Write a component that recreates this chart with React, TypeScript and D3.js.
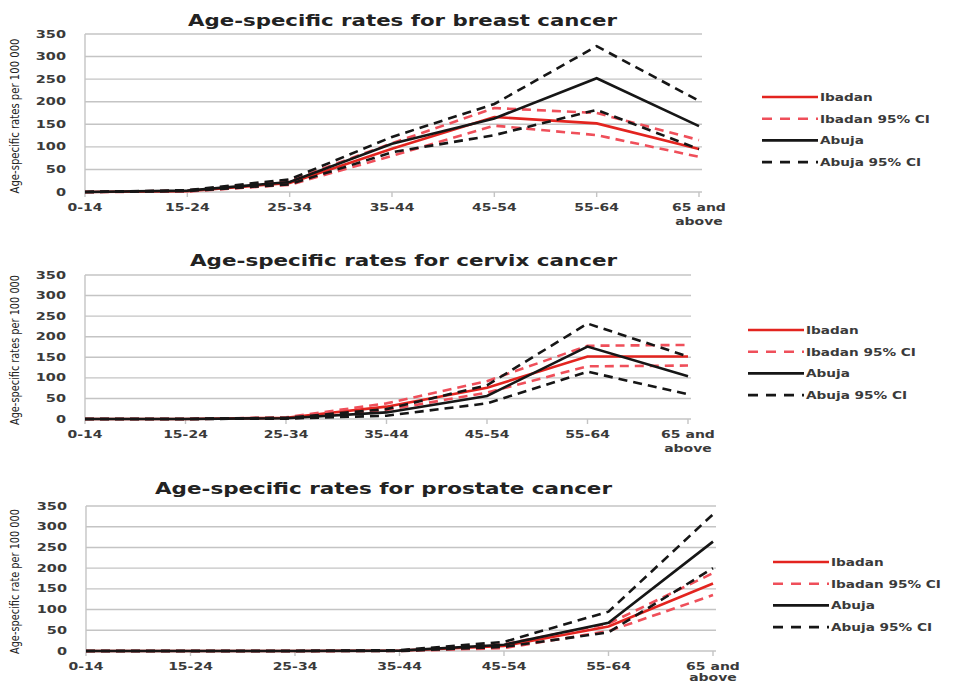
import React from 'react';
import * as d3 from 'd3';

// age groups on the x axis
const ageGroups = ['0-14', '15-24', '25-34', '35-44', '45-54', '55-64', '65 and above'];
const yTicks = [0, 50, 100, 150, 200, 250, 300, 350];
const seriesNames = ['Ibadan', 'Ibadan 95% CI', 'Abuja', 'Abuja 95% CI'];

// breast cancer, rates per 100 000
const breastIbadan = [0, 2, 20, 96, 166, 152, 95];
const breastIbadanLow = [0, 1, 16, 80, 147, 126, 78];
const breastIbadanHigh = [0, 3, 25, 108, 186, 175, 115];
const breastAbuja = [0, 3, 22, 107, 163, 252, 146];
const breastAbujaLow = [0, 2, 17, 88, 126, 182, 95];
const breastAbujaHigh = [0, 4, 28, 122, 195, 323, 202];

// cervix cancer
const cervixIbadan = [0, 0, 3, 30, 76, 152, 152];
const cervixIbadanLow = [0, 0, 2, 22, 64, 128, 130];
const cervixIbadanHigh = [0, 0, 4, 38, 92, 178, 180];
const cervixAbuja = [0, 0, 2, 16, 56, 176, 104];
const cervixAbujaLow = [0, 0, 1, 8, 38, 115, 60];
const cervixAbujaHigh = [0, 0, 3, 24, 82, 232, 152];

// prostate cancer
const prostateIbadan = [0, 0, 0, 1, 12, 59, 163];
const prostateIbadanLow = [0, 0, 0, 0, 7, 48, 135];
const prostateIbadanHigh = [0, 0, 0, 1, 16, 66, 188];
const prostateAbuja = [0, 0, 0, 1, 15, 68, 264];
const prostateAbujaLow = [0, 0, 0, 0, 10, 45, 200];
const prostateAbujaHigh = [0, 0, 0, 2, 22, 95, 330];

const RED = '#e3241f';
const RED_DASH = '#ef4f5a';
const BLACK = '#161616';
const GRID = '#c4c4c4';
const TEXT = '#3a3a3a';

const styles = [
  { color: RED, dash: null },
  { color: RED_DASH, dash: '9,6' },
  { color: BLACK, dash: null },
  { color: BLACK, dash: '9,6' },
];

const panels = [
  {
    title: 'Age-specific rates for breast cancer',
    yLabel: 'Age-specific rates per 100 000',
    left: 85, right: 699, top: 34, bottom: 192,
    titleX: 188, titleY: 26, titleW: 429,
    labelLen: 155, lineGap: 13.5,
    legendX: 762, legendY: 97,
    series: [
      { name: seriesNames[0], style: 0, values: breastIbadan },
      { name: seriesNames[1], style: 1, values: breastIbadanLow },
      { name: seriesNames[1], style: 1, values: breastIbadanHigh },
      { name: seriesNames[2], style: 2, values: breastAbuja },
      { name: seriesNames[3], style: 3, values: breastAbujaLow },
      { name: seriesNames[3], style: 3, values: breastAbujaHigh },
    ],
  },
  {
    title: 'Age-specific rates for cervix cancer',
    yLabel: 'Age-specific rates per 100 000',
    left: 85, right: 688, top: 275, bottom: 419,
    titleX: 190, titleY: 266, titleW: 427,
    labelLen: 150, lineGap: 13.5,
    legendX: 748, legendY: 330,
    series: [
      { name: seriesNames[0], style: 0, values: cervixIbadan },
      { name: seriesNames[1], style: 1, values: cervixIbadanLow },
      { name: seriesNames[1], style: 1, values: cervixIbadanHigh },
      { name: seriesNames[2], style: 2, values: cervixAbuja },
      { name: seriesNames[3], style: 3, values: cervixAbujaLow },
      { name: seriesNames[3], style: 3, values: cervixAbujaHigh },
    ],
  },
  {
    title: 'Age-specific rates for prostate cancer',
    yLabel: 'Age-specific rate per 100 000',
    left: 86, right: 713, top: 506, bottom: 651,
    titleX: 155, titleY: 494, titleW: 457,
    labelLen: 145, lineGap: 11,
    legendX: 773, legendY: 562,
    series: [
      { name: seriesNames[0], style: 0, values: prostateIbadan },
      { name: seriesNames[1], style: 1, values: prostateIbadanLow },
      { name: seriesNames[1], style: 1, values: prostateIbadanHigh },
      { name: seriesNames[2], style: 2, values: prostateAbuja },
      { name: seriesNames[3], style: 3, values: prostateAbujaLow },
      { name: seriesNames[3], style: 3, values: prostateAbujaHigh },
    ],
  },
];

const FONT = '"DejaVu Sans", Verdana, sans-serif';

function Panel({ p }: { p: any }) {
  const x = d3.scalePoint<string>().domain(ageGroups).range([p.left, p.right]).padding(0);
  const y = d3.scaleLinear().domain([0, 350]).range([p.bottom, p.top]);
  const line = d3
    .line<number>()
    .x((_, i) => x(ageGroups[i]) as number)
    .y((d) => y(d));

  return (
    <g>
      <text
        x={p.titleX}
        y={p.titleY}
        textLength={p.titleW}
        lengthAdjust="spacingAndGlyphs"
        fontFamily={FONT}
        fontWeight="bold"
        fontSize={15}
        fill="#222"
      >
        {p.title}
      </text>

      {/* grid */}
      {yTicks.map((t) => (
        <line key={t} x1={p.left} x2={p.right + 3} y1={y(t)} y2={y(t)} stroke={GRID} strokeWidth={1.4} />
      ))}
      <line x1={p.left} x2={p.left} y1={p.top} y2={p.bottom} stroke={GRID} strokeWidth={1.4} />
      {ageGroups.map((a) => (
        <line key={a} x1={x(a)} x2={x(a)} y1={p.bottom} y2={p.bottom + 5} stroke={GRID} strokeWidth={1.4} />
      ))}

      {/* y tick labels */}
      {yTicks.map((t) => (
        <text
          key={t}
          transform={`translate(${p.left - 19},${y(t) + 3.5}) scale(1.45,1)`}
          textAnchor="end"
          fontFamily={FONT}
          fontWeight="bold"
          fontSize={10}
          fill={TEXT}
        >
          {t}
        </text>
      ))}

      {/* x tick labels */}
      {ageGroups.map((a) => {
        const parts = a === '65 and above' ? ['65 and', 'above'] : [a];
        return parts.map((s, k) => (
          <text
            key={a + k}
            transform={`translate(${x(a)},${p.bottom + 19 + k * p.lineGap}) scale(1.4,1)`}
            textAnchor="middle"
            fontFamily={FONT}
            fontWeight="bold"
            fontSize={10}
            fill={TEXT}
          >
            {s}
          </text>
        ));
      })}

      {/* y axis title */}
      <text
        transform={`translate(19,${(p.top + p.bottom) / 2 + 3}) rotate(-90)`}
        textAnchor="middle"
        textLength={p.labelLen}
        lengthAdjust="spacingAndGlyphs"
        fontFamily='"Liberation Sans Narrow", "DejaVu Sans Condensed", sans-serif'
        fontSize={12}
        fill="#222"
      >
        {p.yLabel}
      </text>

      {/* series */}
      {p.series.map((s: any, i: number) => (
        <path
          key={i}
          d={line(s.values) || ''}
          fill="none"
          stroke={styles[s.style].color}
          strokeWidth={2.6}
          strokeDasharray={styles[s.style].dash || undefined}
        />
      ))}

      {/* legend */}
      {seriesNames.map((n, i) => {
        const ly = p.legendY + i * 21.7;
        return (
          <g key={n}>
            <line
              x1={p.legendX}
              x2={p.legendX + 56}
              y1={ly}
              y2={ly}
              stroke={styles[i].color}
              strokeWidth={2.6}
              strokeDasharray={styles[i].dash ? '10,8' : undefined}
            />
            <text
              transform={`translate(${p.legendX + 58},${ly + 4}) scale(1.3,1)`}
              fontFamily={FONT}
              fontWeight="bold"
              fontSize={10.5}
              fill={TEXT}
            >
              {n}
            </text>
          </g>
        );
      })}
    </g>
  );
}

export default function App() {
  return (
    <svg
      width={954}
      height={683}
      style={{ position: 'absolute', left: 0, top: 0, background: '#fff' }}
    >
      {panels.map((p) => (
        <Panel key={p.title} p={p} />
      ))}
    </svg>
  );
}
